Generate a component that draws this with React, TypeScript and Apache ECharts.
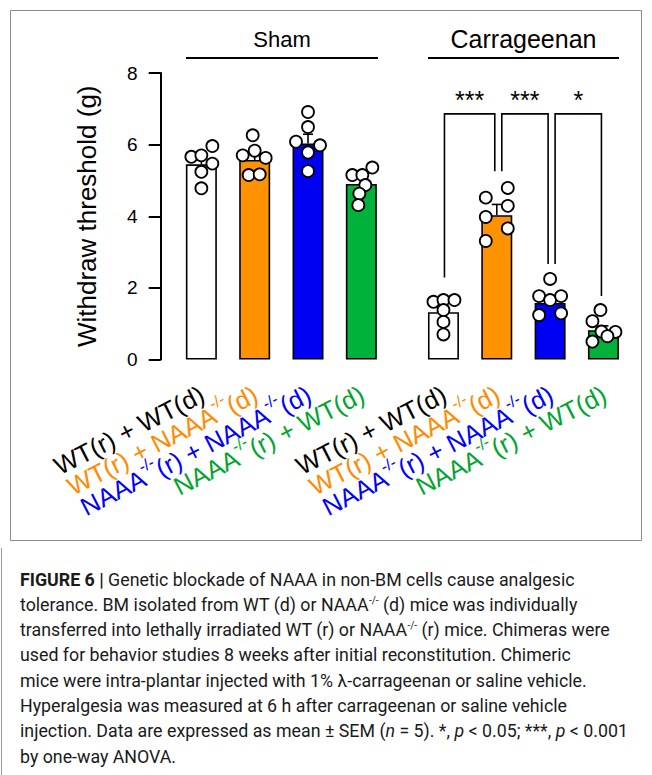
import React, { useEffect, useRef } from 'react';
import * as echarts from 'echarts';

// ---------- data ----------
const groupNames = ['Sham', 'Carrageenan'];
const categories = ['WT(r) + WT(d)', 'WT(r) + NAAA-/-(d)', 'NAAA-/-(r) + NAAA-/-(d)', 'NAAA-/-(r) + WT(d)'];
const yTicks = [0, 2, 4, 6, 8];

const shamMean = [5.45, 5.57, 6.03, 4.9];
const shamSem = [0.16, 0.17, 0.26, 0.16];
const carrMean = [1.32, 4.03, 1.58, 0.82];
const carrSem = [0.14, 0.3, 0.16, 0.12];

const shamPoints = [
  [5.66, 5.7, 5.96, 5.47, 5.24, 4.78],
  [6.26, 5.7, 5.83, 5.63, 5.15, 5.17],
  [6.91, 6.49, 6.08, 5.98, 5.78, 5.26],
  [5.15, 5.15, 5.36, 4.87, 4.63, 4.31],
];
const shamJitter = [
  [-10, 0, 11, 11, 0, 0],
  [-2, -12, 0, 11, -6, 5],
  [0, 0, -12, 12, 0, 0],
  [-9, 1, 11, 4, -2, -3],
];
const carrPoints = [
  [1.61, 1.66, 1.66, 1.38, 1.05, 0.7],
  [4.52, 4.79, 4.29, 3.98, 3.66, 3.31],
  [2.25, 1.77, 1.66, 1.77, 1.24, 1.29],
  [1.38, 1.07, 0.78, 0.77, 0.65, 0.5],
];
const carrJitter = [
  [-10, 0, 11, 0, 0, 0],
  [-11, 11, 11, -11, 11, -11],
  [0, -11, 0, 11, -11, 11],
  [-3, -11, -2, 12, 4, -11],
];

const comparisonFrom = [0, 1, 2];
const comparisonTo = [1, 2, 3];
const comparisonLabels = ['***', '***', '*'];
const bracketFromEnd = [2.29, 5.26, 2.67];
const bracketToEnd = [5.26, 2.67, 1.77];
const bracketTop = 6.86;

const captionLines = [
  '{b|FIGURE 6 |} Genetic blockade of NAAA in non-BM cells cause analgesic',
  'tolerance. BM isolated from WT (d) or NAAA{s|-/-} (d) mice was individually',
  'transferred into lethally irradiated WT (r) or NAAA{s|-/-} (r) mice. Chimeras were',
  'used for behavior studies 8 weeks after initial reconstitution. Chimeric',
  'mice were intra-plantar injected with 1% λ-carrageenan or saline vehicle.',
  'Hyperalgesia was measured at 6 h after carrageenan or saline vehicle',
  'injection. Data are expressed as mean ± SEM ({i|n} = 5). *, {i|p} < 0.05; ***, {i|p} < 0.001',
  'by one-way ANOVA.',
];

// ---------- styles ----------
const FONT = '"Liberation Sans", Arial, sans-serif';
const CAP_FONT = 'Roboto, "Liberation Sans", sans-serif';
const barColors = ['#FFFFFF', '#FF9200', '#0000F2', '#00B23A'];
const textColors = ['#000000', '#FF8A00', '#0000FF', '#00A52E'];
const richKeys = ['k', 'o', 'u', 'g'];

const GRID_TOP = 73;
const GRID_H = 286.5;
const GRID_W = 213.3;
const GRID_LEFTS = [174.7, 416.8];

function labelFormatter(value: string, index: number) {
  const key = richKeys[index];
  const parts = value.split('-/-');
  let out = '';
  parts.forEach((p, i) => {
    if (p) out += `{${key}|${p}}`;
    if (i < parts.length - 1) out += `{${key}s|-/-}`;
  });
  return out;
}

const rich: any = {};
richKeys.forEach((k, i) => {
  rich[k] = { color: textColors[i], fontSize: 25.5, fontFamily: FONT, verticalAlign: 'bottom', lineHeight: 31 };
  rich[k + 's'] = { color: textColors[i], fontSize: 16, fontFamily: FONT, verticalAlign: 'top', lineHeight: 31 };
});

function makeScatter(points: number[][], jitter: number[][], axis: number) {
  const data: any[] = [];
  points.forEach((vals, ci) => {
    vals.forEach((v, j) => {
      data.push({ value: [ci, v], symbolOffset: [jitter[ci][j], 0] });
    });
  });
  return {
    type: 'scatter',
    xAxisIndex: axis,
    yAxisIndex: axis,
    symbol: 'circle',
    symbolSize: 12,
    itemStyle: { color: '#FFFFFF', borderColor: '#000000', borderWidth: 1.8, opacity: 1 },
    z: 5,
    data,
  };
}

function makeErrorBars(mean: number[], sem: number[], axis: number) {
  return {
    type: 'custom',
    xAxisIndex: axis,
    yAxisIndex: axis,
    z: 4,
    data: mean.map((m, i) => [i, m, m + sem[i]]),
    renderItem: (params: any, api: any) => {
      const base = api.coord([api.value(0), api.value(1)]);
      const top = api.coord([api.value(0), api.value(2)]);
      return {
        type: 'group',
        children: [
          { type: 'line', shape: { x1: base[0], y1: base[1], x2: top[0], y2: top[1] }, style: { stroke: '#000', lineWidth: 1.6 } },
          { type: 'line', shape: { x1: top[0] - 5, y1: top[1], x2: top[0] + 5, y2: top[1] }, style: { stroke: '#000', lineWidth: 1.6 } },
        ],
      };
    },
  };
}

function makeBars(mean: number[], axis: number) {
  return {
    type: 'bar',
    xAxisIndex: axis,
    yAxisIndex: axis,
    barWidth: 31,
    z: 2,
    data: mean.map((m, i) => ({ value: m, itemStyle: { color: barColors[i] } })),
    itemStyle: { borderColor: '#000', borderWidth: 1.6 },
  };
}

export default function App() {
  const ref = useRef<HTMLDivElement>(null);
  useEffect(() => {
    if (!ref.current) return;
    const chart = echarts.init(ref.current, undefined, { renderer: 'svg' });

    const grids = GRID_LEFTS.map((l) => ({ left: l, top: GRID_TOP, width: GRID_W, height: GRID_H }));

    const xAxes = GRID_LEFTS.map((_, gi) => ({
      type: 'category',
      gridIndex: gi,
      data: categories,
      axisLine: { show: false },
      axisTick: { show: false },
      axisLabel: {
        rotate: 27,
        margin: 31,
        interval: 0,
        formatter: labelFormatter,
        rich,
      },
    }));

    const yAxes = GRID_LEFTS.map((_, gi) => ({
      type: 'value',
      gridIndex: gi,
      min: yTicks[0],
      max: yTicks[yTicks.length - 1],
      interval: yTicks[1] - yTicks[0],
      show: gi === 0,
      offset: 14,
      splitLine: { show: false },
      axisLine: { show: true, lineStyle: { color: '#000', width: 2 } },
      axisTick: { show: true, length: 12, lineStyle: { color: '#000', width: 2 } },
      axisLabel: { margin: 23, color: '#000', fontSize: 19, fontFamily: FONT },
      name: 'Withdraw threshold (g)',
      nameLocation: 'middle',
      nameGap: 61,
      nameTextStyle: { color: '#000', fontSize: 26, fontFamily: FONT },
    }));

    const bracketSeries = {
      type: 'custom',
      xAxisIndex: 1,
      yAxisIndex: 1,
      z: 6,
      data: comparisonFrom.map((f, i) => [f, comparisonTo[i], bracketFromEnd[i], bracketToEnd[i], bracketTop]),
      renderItem: (params: any, api: any) => {
        const i = params.dataIndex;
        const f = api.value(0);
        const t = api.value(1);
        const shareL = i > 0 ? 5 : 1;
        const a = api.coord([f, api.value(2)]);
        const b = api.coord([t, api.value(3)]);
        const top = api.coord([f, api.value(4)])[1];
        const x1 = a[0] + shareL;
        const x2 = b[0] - 2;
        return {
          type: 'group',
          children: [
            {
              type: 'polyline',
              shape: { points: [[x1, a[1]], [x1, top], [x2, top], [x2, b[1]]] },
              style: { stroke: '#000', lineWidth: 1.6, fill: 'none' },
            },
            {
              type: 'text',
              x: (x1 + x2) / 2,
              y: top - 1,
              style: { text: comparisonLabels[i], fill: '#000', fontSize: 25, fontFamily: FONT, align: 'center', verticalAlign: 'bottom' },
            },
          ],
        };
      },
    };

    const headerGraphics: any[] = [];
    const headerLines = [[186, 378], [428, 619]];
    const headerSizes = [22, 25];
    groupNames.forEach((g, i) => {
      const [x1, x2] = headerLines[i];
      headerGraphics.push({
        type: 'text',
        x: (x1 + x2) / 2,
        y: 39,
        style: { text: g, fill: '#000', fontSize: headerSizes[i], fontFamily: FONT, align: 'center', verticalAlign: 'middle' },
      });
      headerGraphics.push({
        type: 'line',
        shape: { x1, y1: 58, x2, y2: 58 },
        style: { stroke: '#000', lineWidth: 1.8 },
      });
    });

    const captionGraphics = captionLines.map((line, i) => ({
      type: 'text',
      x: 20,
      y: 579 + i * 25.3,
      style: {
        text: line,
        fill: '#1a1a1a',
        fontSize: 17.8,
        fontFamily: CAP_FONT,
        verticalAlign: 'middle',
        rich: {
          b: { fontWeight: 'bold', fontSize: 17.8, fill: '#1a1a1a', fontFamily: CAP_FONT },
          s: { fontSize: 10, verticalAlign: 'top', fill: '#1a1a1a', fontFamily: CAP_FONT },
          i: { fontStyle: 'italic', fontSize: 17.8, fill: '#1a1a1a', fontFamily: CAP_FONT },
        },
      },
    }));

    chart.setOption({
      animation: false,
      backgroundColor: '#FFFFFF',
      grid: grids,
      xAxis: xAxes,
      yAxis: yAxes,
      series: [
        makeBars(shamMean, 0),
        makeBars(carrMean, 1),
        makeErrorBars(shamMean, shamSem, 0),
        makeErrorBars(carrMean, carrSem, 1),
        makeScatter(shamPoints, shamJitter, 0),
        makeScatter(carrPoints, carrJitter, 1),
        bracketSeries,
      ],
      graphic: [
        {
          type: 'rect',
          shape: { x: 10.5, y: 10.5, width: 631, height: 530 },
          style: { fill: 'none', stroke: '#8c8c8c', lineWidth: 1 },
        },
        {
          type: 'line',
          shape: { x1: 1.5, y1: 548, x2: 1.5, y2: 775 },
          style: { stroke: '#9a9a9a', lineWidth: 1 },
        },
        ...headerGraphics,
        ...captionGraphics,
      ],
    });
    return () => chart.dispose();
  }, []);
  return <div ref={ref} style={{ position: 'fixed', left: 0, top: 0, width: 652, height: 775 }} />;
}
